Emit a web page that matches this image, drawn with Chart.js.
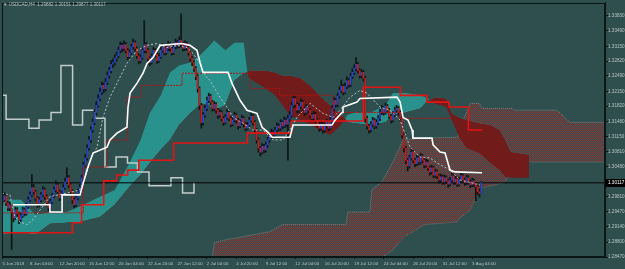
<!DOCTYPE html>
<html>
<head>
<meta charset="utf-8">
<script src="https://cdn.jsdelivr.net/npm/chart.js@4.4.1/dist/chart.umd.min.js"></script>
<style>
  html, body { margin: 0; padding: 0; background: #2f4f4f; }
  canvas { display: block; }
</style>
</head>
<body>
<canvas id="mtChart" width="625" height="269"></canvas>
<script>
// USDCAD H4, bar index 0 = first visible bar (5 Jun 2018)
const headerText = '\u25BC USDCAD,H4  1.29882 1.30151 1.29877 1.30117';
const bidPrice = 1.30117;

const xTickBars = [0, 15, 31, 47, 63, 79, 95, 111, 127, 143, 159, 175, 191, 207, 223, 239, 255];
const xTickLabels = ['5 Jun 2018', '8 Jun 04:00', '12 Jun 20:00', '15 Jun 12:00', '20 Jun 04:00', '22 Jun 20:00',
  '27 Jun 12:00', '2 Jul 04:00', '4 Jul 20:00', '9 Jul 12:00', '12 Jul 04:00', '16 Jul 20:00', '19 Jul 12:00',
  '24 Jul 04:00', '26 Jul 20:00', '31 Jul 12:00', '3 Aug 04:00'];
const yTickLabels = ['1.33830', '1.33490', '1.33150', '1.32820', '1.32490', '1.32150', '1.31820', '1.31480',
  '1.31150', '1.30810', '1.30480', '1.30150', '1.29810', '1.29470', '1.29140', '1.28800', '1.28470'];

const opens = [
  1.2968, 1.2974, 1.2983, 1.2967, 1.2956, 1.2963, 1.2947, 1.2934, 1.2952, 1.2943,
  1.2930, 1.2939, 1.2952, 1.2943, 1.2959, 1.2974, 1.2985, 1.3001, 1.2992, 1.2978,
  1.2963, 1.2974, 1.2985, 1.2996, 1.2981, 1.2967, 1.2956, 1.2970, 1.2983, 1.2996,
  1.3007, 1.2992, 1.2978, 1.2987, 1.3001, 1.3014, 1.3023, 1.3007, 1.2992, 1.2974,
  1.2963, 1.2978, 1.2992, 1.3001, 1.3023, 1.3051, 1.3067, 1.3089, 1.3107, 1.3129,
  1.3146, 1.3168, 1.3184, 1.3199, 1.3213, 1.3228, 1.3221, 1.3235, 1.3250, 1.3261,
  1.3275, 1.3279, 1.3288, 1.3294, 1.3306, 1.3317, 1.3310, 1.3319, 1.3306, 1.3292,
  1.3301, 1.3314, 1.3323, 1.3310, 1.3294, 1.3283, 1.3290, 1.3306, 1.3319, 1.3306,
  1.3288, 1.3279, 1.3292, 1.3306, 1.3297, 1.3283, 1.3292, 1.3306, 1.3314, 1.3301,
  1.3310, 1.3319, 1.3310, 1.3301, 1.3314, 1.3323, 1.3317, 1.3328, 1.3319, 1.3310,
  1.3321, 1.3312, 1.3301, 1.3288, 1.3279, 1.3266, 1.3248, 1.3221, 1.3184, 1.3146,
  1.3162, 1.3177, 1.3195, 1.3204, 1.3191, 1.3177, 1.3186, 1.3173, 1.3162, 1.3168,
  1.3155, 1.3146, 1.3157, 1.3168, 1.3155, 1.3142, 1.3151, 1.3162, 1.3151, 1.3138,
  1.3146, 1.3155, 1.3142, 1.3133, 1.3140, 1.3151, 1.3160, 1.3146, 1.3129, 1.3107,
  1.3089, 1.3080, 1.3093, 1.3085, 1.3096, 1.3107, 1.3115, 1.3124, 1.3118, 1.3129,
  1.3138, 1.3133, 1.3146, 1.3138, 1.3151, 1.3142, 1.3155, 1.3162, 1.3184, 1.3199,
  1.3186, 1.3173, 1.3182, 1.3191, 1.3177, 1.3168, 1.3180, 1.3173, 1.3162, 1.3155,
  1.3164, 1.3151, 1.3142, 1.3133, 1.3142, 1.3129, 1.3138, 1.3146, 1.3133, 1.3151,
  1.3177, 1.3195, 1.3186, 1.3204, 1.3217, 1.3226, 1.3213, 1.3226, 1.3239, 1.3230,
  1.3248, 1.3257, 1.3266, 1.3275, 1.3261, 1.3250, 1.3257, 1.3244, 1.3155, 1.3138,
  1.3129, 1.3142, 1.3151, 1.3138, 1.3146, 1.3155, 1.3168, 1.3177, 1.3168, 1.3182,
  1.3173, 1.3160, 1.3151, 1.3164, 1.3173, 1.3177, 1.3168, 1.3155, 1.3118, 1.3089,
  1.3062, 1.3049, 1.3067, 1.3080, 1.3062, 1.3054, 1.3067, 1.3058, 1.3071, 1.3062,
  1.3051, 1.3058, 1.3045, 1.3036, 1.3045, 1.3029, 1.3036, 1.3027, 1.3018, 1.3025,
  1.3014, 1.3023, 1.3016, 1.3009, 1.3018, 1.3027, 1.3014, 1.3020, 1.3009, 1.3018,
  1.3027, 1.3018, 1.3012, 1.3023, 1.3014, 1.3007, 1.3016, 1.3009, 1.3003, 1.2992,
  1.2988
];
const highs = [
  1.2982, 1.2990, 1.2988, 1.2972, 1.2969, 1.2966, 1.2950, 1.2958, 1.2957, 1.2947,
  1.2945, 1.2958, 1.2956, 1.2966, 1.2980, 1.2992, 1.3030, 1.3008, 1.2995, 1.2982,
  1.2979, 1.2990, 1.3004, 1.3000, 1.2985, 1.2970, 1.2975, 1.2988, 1.3003, 1.3016,
  1.3012, 1.2996, 1.2993, 1.3008, 1.3022, 1.3045, 1.3028, 1.3011, 1.2996, 1.2978,
  1.2984, 1.2998, 1.3008, 1.3029, 1.3058, 1.3075, 1.3096, 1.3115, 1.3136, 1.3154,
  1.3175, 1.3192, 1.3207, 1.3222, 1.3236, 1.3233, 1.3243, 1.3258, 1.3268, 1.3283,
  1.3287, 1.3296, 1.3302, 1.3313, 1.3325, 1.3322, 1.3327, 1.3323, 1.3310, 1.3307,
  1.3320, 1.3331, 1.3327, 1.3314, 1.3298, 1.3296, 1.3312, 1.3372, 1.3324, 1.3310,
  1.3292, 1.3298, 1.3312, 1.3310, 1.3301, 1.3298, 1.3312, 1.3321, 1.3318, 1.3316,
  1.3326, 1.3323, 1.3314, 1.3320, 1.3331, 1.3328, 1.3336, 1.3387, 1.3324, 1.3327,
  1.3325, 1.3316, 1.3305, 1.3292, 1.3283, 1.3270, 1.3252, 1.3225, 1.3188, 1.3168,
  1.3184, 1.3202, 1.3211, 1.3208, 1.3195, 1.3192, 1.3190, 1.3177, 1.3174, 1.3172,
  1.3159, 1.3163, 1.3175, 1.3172, 1.3159, 1.3157, 1.3169, 1.3166, 1.3155, 1.3152,
  1.3162, 1.3159, 1.3146, 1.3146, 1.3157, 1.3167, 1.3164, 1.3150, 1.3133, 1.3111,
  1.3093, 1.3099, 1.3097, 1.3102, 1.3113, 1.3121, 1.3131, 1.3129, 1.3135, 1.3145,
  1.3143, 1.3152, 1.3150, 1.3158, 1.3156, 1.3162, 1.3170, 1.3190, 1.3206, 1.3203,
  1.3190, 1.3188, 1.3198, 1.3195, 1.3181, 1.3186, 1.3184, 1.3177, 1.3166, 1.3170,
  1.3168, 1.3155, 1.3146, 1.3148, 1.3146, 1.3144, 1.3153, 1.3150, 1.3158, 1.3184,
  1.3202, 1.3199, 1.3211, 1.3225, 1.3240, 1.3230, 1.3233, 1.3247, 1.3243, 1.3255,
  1.3265, 1.3274, 1.3290, 1.3279, 1.3265, 1.3263, 1.3261, 1.3248, 1.3160, 1.3142,
  1.3148, 1.3157, 1.3155, 1.3152, 1.3161, 1.3175, 1.3184, 1.3181, 1.3188, 1.3186,
  1.3177, 1.3164, 1.3170, 1.3180, 1.3184, 1.3181, 1.3172, 1.3159, 1.3122, 1.3093,
  1.3066, 1.3073, 1.3088, 1.3084, 1.3066, 1.3073, 1.3071, 1.3077, 1.3075, 1.3066,
  1.3064, 1.3062, 1.3049, 1.3051, 1.3049, 1.3042, 1.3040, 1.3031, 1.3031, 1.3029,
  1.3029, 1.3027, 1.3020, 1.3024, 1.3033, 1.3031, 1.3026, 1.3024, 1.3024, 1.3033,
  1.3031, 1.3022, 1.3029, 1.3027, 1.3018, 1.3022, 1.3020, 1.3013, 1.3007, 1.2998,
  1.3015
];
const lows = [
  1.2962, 1.2970, 1.2961, 1.2950, 1.2950, 1.2864, 1.2925, 1.2930, 1.2937, 1.2921,
  1.2926, 1.2935, 1.2938, 1.2940, 1.2955, 1.2970, 1.2981, 1.2986, 1.2972, 1.2957,
  1.2958, 1.2970, 1.2981, 1.2975, 1.2960, 1.2949, 1.2952, 1.2966, 1.2979, 1.2991,
  1.2987, 1.2972, 1.2974, 1.2983, 1.2997, 1.3010, 1.3001, 1.2986, 1.2966, 1.2956,
  1.2959, 1.2974, 1.2987, 1.2996, 1.3019, 1.3046, 1.3062, 1.3084, 1.3101, 1.3124,
  1.3141, 1.3162, 1.3179, 1.3194, 1.3208, 1.3212, 1.3216, 1.3230, 1.3244, 1.3256,
  1.3268, 1.3273, 1.3282, 1.3289, 1.3300, 1.3303, 1.3305, 1.3300, 1.3285, 1.3287,
  1.3297, 1.3309, 1.3304, 1.3288, 1.3276, 1.3278, 1.3286, 1.3301, 1.3300, 1.3282,
  1.3272, 1.3275, 1.3288, 1.3291, 1.3277, 1.3279, 1.3288, 1.3301, 1.3295, 1.3297,
  1.3305, 1.3304, 1.3295, 1.3297, 1.3309, 1.3311, 1.3312, 1.3313, 1.3304, 1.3306,
  1.3306, 1.3295, 1.3282, 1.3272, 1.3259, 1.3241, 1.3213, 1.3175, 1.3133, 1.3140,
  1.3157, 1.3172, 1.3190, 1.3185, 1.3171, 1.3172, 1.3167, 1.3155, 1.3157, 1.3149,
  1.3139, 1.3142, 1.3153, 1.3150, 1.3136, 1.3138, 1.3147, 1.3145, 1.3131, 1.3134,
  1.3141, 1.3136, 1.3127, 1.3129, 1.3136, 1.3147, 1.3140, 1.3122, 1.3100, 1.3080,
  1.3071, 1.3076, 1.3078, 1.3080, 1.3091, 1.3102, 1.3110, 1.3112, 1.3113, 1.3124,
  1.3127, 1.3128, 1.3132, 1.3134, 1.3136, 1.3062, 1.3148, 1.3157, 1.3179, 1.3180,
  1.3167, 1.3168, 1.3177, 1.3171, 1.3161, 1.3164, 1.3167, 1.3156, 1.3148, 1.3150,
  1.3145, 1.3136, 1.3126, 1.3128, 1.3122, 1.3124, 1.3133, 1.3127, 1.3129, 1.3146,
  1.3172, 1.3180, 1.3181, 1.3199, 1.3212, 1.3207, 1.3209, 1.3221, 1.3224, 1.3225,
  1.3243, 1.3252, 1.3260, 1.3255, 1.3244, 1.3245, 1.3238, 1.3146, 1.3131, 1.3122,
  1.3125, 1.3137, 1.3132, 1.3133, 1.3141, 1.3150, 1.3163, 1.3162, 1.3164, 1.3167,
  1.3154, 1.3145, 1.3147, 1.3159, 1.3168, 1.3162, 1.3149, 1.3111, 1.3080, 1.3054,
  1.3038, 1.3044, 1.3062, 1.3056, 1.3047, 1.3050, 1.3052, 1.3053, 1.3056, 1.3045,
  1.3046, 1.3039, 1.3029, 1.3031, 1.3023, 1.3024, 1.3021, 1.3011, 1.3013, 1.3008,
  1.3009, 1.3010, 1.3002, 1.3005, 1.3013, 1.3008, 1.3009, 1.3003, 1.3005, 1.3013,
  1.3012, 1.3006, 1.3008, 1.3008, 1.3001, 1.3003, 1.3003, 1.2972, 1.2985, 1.2980,
  1.2988
];
const closes = [
  1.2974, 1.2983, 1.2967, 1.2956, 1.2963, 1.2947, 1.2934, 1.2952, 1.2943, 1.2930,
  1.2939, 1.2952, 1.2943, 1.2959, 1.2974, 1.2985, 1.3001, 1.2992, 1.2978, 1.2963,
  1.2974, 1.2985, 1.2996, 1.2981, 1.2967, 1.2956, 1.2970, 1.2983, 1.2996, 1.3007,
  1.2992, 1.2978, 1.2987, 1.3001, 1.3014, 1.3023, 1.3007, 1.2992, 1.2974, 1.2963,
  1.2978, 1.2992, 1.3001, 1.3023, 1.3051, 1.3067, 1.3089, 1.3107, 1.3129, 1.3146,
  1.3168, 1.3184, 1.3199, 1.3213, 1.3228, 1.3221, 1.3235, 1.3250, 1.3261, 1.3275,
  1.3279, 1.3288, 1.3294, 1.3306, 1.3317, 1.3310, 1.3319, 1.3306, 1.3292, 1.3301,
  1.3314, 1.3323, 1.3310, 1.3294, 1.3283, 1.3290, 1.3306, 1.3319, 1.3306, 1.3288,
  1.3279, 1.3292, 1.3306, 1.3297, 1.3283, 1.3292, 1.3306, 1.3314, 1.3301, 1.3310,
  1.3319, 1.3310, 1.3301, 1.3314, 1.3323, 1.3317, 1.3328, 1.3319, 1.3310, 1.3321,
  1.3312, 1.3301, 1.3288, 1.3279, 1.3266, 1.3248, 1.3221, 1.3184, 1.3146, 1.3162,
  1.3177, 1.3195, 1.3204, 1.3191, 1.3177, 1.3186, 1.3173, 1.3162, 1.3168, 1.3155,
  1.3146, 1.3157, 1.3168, 1.3155, 1.3142, 1.3151, 1.3162, 1.3151, 1.3138, 1.3146,
  1.3155, 1.3142, 1.3133, 1.3140, 1.3151, 1.3160, 1.3146, 1.3129, 1.3107, 1.3089,
  1.3080, 1.3093, 1.3085, 1.3096, 1.3107, 1.3115, 1.3124, 1.3118, 1.3129, 1.3138,
  1.3133, 1.3146, 1.3138, 1.3151, 1.3142, 1.3155, 1.3162, 1.3184, 1.3199, 1.3186,
  1.3173, 1.3182, 1.3191, 1.3177, 1.3168, 1.3180, 1.3173, 1.3162, 1.3155, 1.3164,
  1.3151, 1.3142, 1.3133, 1.3142, 1.3129, 1.3138, 1.3146, 1.3133, 1.3151, 1.3177,
  1.3195, 1.3186, 1.3204, 1.3217, 1.3226, 1.3213, 1.3226, 1.3239, 1.3230, 1.3248,
  1.3257, 1.3266, 1.3275, 1.3261, 1.3250, 1.3257, 1.3244, 1.3155, 1.3138, 1.3129,
  1.3142, 1.3151, 1.3138, 1.3146, 1.3155, 1.3168, 1.3177, 1.3168, 1.3182, 1.3173,
  1.3160, 1.3151, 1.3164, 1.3173, 1.3177, 1.3168, 1.3155, 1.3118, 1.3089, 1.3062,
  1.3049, 1.3067, 1.3080, 1.3062, 1.3054, 1.3067, 1.3058, 1.3071, 1.3062, 1.3051,
  1.3058, 1.3045, 1.3036, 1.3045, 1.3029, 1.3036, 1.3027, 1.3018, 1.3025, 1.3014,
  1.3023, 1.3016, 1.3009, 1.3018, 1.3027, 1.3014, 1.3020, 1.3009, 1.3018, 1.3027,
  1.3018, 1.3012, 1.3023, 1.3014, 1.3007, 1.3016, 1.3009, 1.3003, 1.2992, 1.2988,
  1.3012
];

// H4 cloud (senkou spans, shifted forward)
const cloudX = [-1, 10, 18, 26, 35, 42, 53, 61, 69, 75, 80, 86, 91, 96, 102, 107, 111, 115, 121, 126,
  131, 133, 134, 143, 148, 152, 156, 162, 167, 172, 178, 182, 186, 187, 191, 200, 208, 212, 219, 227,
  231, 232, 235, 241, 244, 248, 252, 259, 265, 270, 273, 276, 286];
const spanA = [1.2974, 1.2974, 1.2941, 1.2947, 1.2947, 1.2959, 1.2981, 1.2996, 1.3056, 1.3107,
  1.3166, 1.3206, 1.3257, 1.3272, 1.3279, 1.3294, 1.3310, 1.3328, 1.3306, 1.3323,
  1.3323, 1.3257, 1.3244, 1.3221, 1.3206, 1.3184, 1.3162, 1.3151, 1.3142, 1.3129,
  1.3118, 1.3133, 1.3151, 1.3162, 1.3168, 1.3168, 1.3184, 1.3211, 1.3211, 1.3206,
  1.3199, 1.3197, 1.3188, 1.3180, 1.3151, 1.3113, 1.3089, 1.3078, 1.3056, 1.3040,
  1.3025, 1.3023, 1.3023];
const spanB = [1.2897, 1.2901, 1.2897, 1.2921, 1.2923, 1.2925, 1.2936, 1.2963, 1.3003, 1.3029,
  1.3056, 1.3085, 1.3107, 1.3140, 1.3166, 1.3184, 1.3188, 1.3173, 1.3184, 1.3239,
  1.3255, 1.3257, 1.3261, 1.3261, 1.3257, 1.3250, 1.3250, 1.3244, 1.3228, 1.3206,
  1.3184, 1.3168, 1.3155, 1.3146, 1.3144, 1.3140, 1.3146, 1.3162, 1.3168, 1.3177,
  1.3195, 1.3197, 1.3202, 1.3199, 1.3166, 1.3157, 1.3151, 1.3144, 1.3140, 1.3129,
  1.3107, 1.3080, 1.3074];

// daily cloud (dotted)
const dailyX = [114, 115, 122, 145, 152, 186.5, 187.5, 199.5, 200.5, 206, 212, 217.5, 229, 247, 248.5,
  254, 259, 260.5, 272, 277, 278, 286, 301, 308, 327];
const dailyTop = [1.2848, 1.2879, 1.2886, 1.2903, 1.2919, 1.2919, 1.2947, 1.2947, 1.2996, 1.3014,
  1.3058, 1.3107, 1.3111, 1.3113, 1.3135, 1.3188, 1.3188, 1.3177, 1.3177, 1.3177,
  1.3173, 1.3173, 1.3173, 1.3146, 1.3146];
const dailyBottom = [1.2848, 1.2837, 1.2837, 1.2837, 1.2837, 1.2837, 1.2837, 1.2837, 1.2837, 1.2846,
  1.2863, 1.2890, 1.2919, 1.2925, 1.2934, 1.2952, 1.2996, 1.3001, 1.3012, 1.3036,
  1.3045, 1.3058, 1.3058, 1.3058, 1.3058];

// daily chikou (stepped, grey)
const chikouX = [-0.2, 2.0, 14.4, 19.9, 26.4, 31.8, 38.1, 43.5, 50.3, 55.7, 61.7, 67.9, 73.3, 79.6, 91.5, 97.8, 104];
const chikouY = [1.3206, 1.3153, 1.3133, 1.3151, 1.3168, 1.3272, 1.3140, 1.3173, 1.3155, 1.3047,
  1.3069, 1.3056, 1.3036, 1.3005, 1.3023, 1.2989, 1.3012];

// daily kijun / tenkan (red)
const redThickX = [-1, 38, 43, 55, 62, 68, 74, 93, 133, 157, 196, 216, 230.5, 242.5, 253, 260.5];
const redThickY = [1.2901, 1.2923, 1.2963, 1.3016, 1.3029, 1.3040, 1.3062, 1.3100, 1.3122, 1.3149,
  1.3224, 1.3206, 1.3191, 1.3180, 1.3129, 1.3129];
const redThinX = [-1, 44, 57, 68, 75, 97.5, 134.5, 150.5, 179.5, 216, 244];
const redThinY = [1.2945, 1.3047, 1.3107, 1.3202, 1.3228, 1.3255, 1.3221, 1.3206, 1.3168, 1.3155, 1.3155];

// H4 kijun (white) and tenkan (grey dashed)
const whiteX = [5.75, 25.8, 25.8, 32.4, 32.4, 42.1, 45.9, 49.2, 56.8, 58.4, 62.2, 67.6, 68.2, 69.3, 73.1,
  76.3, 78.5, 81.8, 85.6, 97.5, 101.8, 105.6, 107.3, 108.9, 122.5, 124.6, 129, 132.8, 138.2, 141,
  144.2, 146.4, 156.1, 157.8, 178.9, 180.6, 184.4, 184.9, 192.5, 194.1, 214.2, 215.9, 217.5, 220.2,
  222.4, 222.9, 233.2, 233.8, 237.6, 240.3, 243, 245.7, 260.4];
const whiteY = [1.2963, 1.2963, 1.2947, 1.2947, 1.2985, 1.2985, 1.3040, 1.3078, 1.3091, 1.3107,
  1.3122, 1.3135, 1.3180, 1.3211, 1.3233, 1.3255, 1.3277, 1.3290, 1.3317, 1.3321,
  1.3317, 1.3306, 1.3279, 1.3257, 1.3257, 1.3233, 1.3195, 1.3173, 1.3166, 1.3135,
  1.3124, 1.3113, 1.3113, 1.3140, 1.3140, 1.3151, 1.3168, 1.3180, 1.3191, 1.3199,
  1.3202, 1.3191, 1.3157, 1.3151, 1.3129, 1.3111, 1.3111, 1.3096, 1.3080, 1.3078,
  1.3040, 1.3036, 1.3034];
const greyX = [-0.2, 4.1, 6.8, 9.6, 13.4, 16.6, 25.8, 35.1, 42.1, 45.9, 47.6, 51.4, 54.6, 58.4, 62.2,
  67.6, 73.1, 78.5, 83.9, 89.4, 94.8, 100.2, 103.5, 107.3, 110, 112.7, 118.1, 121.9, 125.2, 130.6,
  136, 141.5, 146.9, 152.3, 156.1, 159.9, 167, 174, 179.5, 183.3, 188.7, 194.1, 197.9, 205, 210.4,
  215.9, 221.3, 226.7, 232.1, 235.9, 243, 248.4, 252.2, 259.3];
const greyY = [1.2989, 1.2985, 1.2936, 1.2925, 1.2919, 1.2930, 1.2981, 1.2989, 1.2996, 1.3034,
  1.3062, 1.3091, 1.3157, 1.3202, 1.3233, 1.3277, 1.3306, 1.3317, 1.3321, 1.3312,
  1.3317, 1.3312, 1.3299, 1.3277, 1.3250, 1.3239, 1.3202, 1.3180, 1.3157, 1.3144,
  1.3129, 1.3129, 1.3107, 1.3107, 1.3129, 1.3157, 1.3188, 1.3166, 1.3157, 1.3173,
  1.3202, 1.3217, 1.3211, 1.3180, 1.3173, 1.3151, 1.3091, 1.3069, 1.3067, 1.3056,
  1.3040, 1.3018, 1.3014, 1.3007];

const xMin = -0.22, xMax = 327.14;
const yMin = 1.2847, yMax = 1.34116;

const bg = '#2f4f4f';
const frameColor = '#0b1616';
const textColor = '#b9c4c4';
const fontFam = '"Liberation Sans", Arial, sans-serif';

const canvas = document.getElementById('mtChart');
const ctx = canvas.getContext('2d');

// hatched fill used by MT4 for the daily cloud
function dottedFill() {
  const c = document.createElement('canvas');
  c.width = 2; c.height = 2;
  const g = c.getContext('2d');
  g.fillStyle = '#a52a2a';
  g.fillRect(0, 0, 1, 1);
  g.fillStyle = '#6e4646';
  g.fillRect(1, 1, 1, 1);
  return ctx.createPattern(c, 'repeat');
}

const pts = (xs, ys) => xs.map((x, i) => ({ x: x, y: ys[i] }));
const barIdx = closes.map((c, i) => i);
const bodyColors = barIdx.map(i => closes[i] >= opens[i] ? '#2c48c0' : '#c02222');

const mtDecor = {
  id: 'mtDecor',
  beforeDraw(chart) {
    const c = chart.ctx;
    c.save();
    c.fillStyle = bg;
    c.fillRect(0, 0, chart.width, chart.height);
    c.restore();
  },
  afterDatasetsDraw(chart) {
    const a = chart.chartArea, c = chart.ctx;
    c.save();
    c.strokeStyle = frameColor;
    c.lineWidth = 1;
    c.strokeRect(Math.round(a.left) + 0.5, Math.round(a.top) + 0.5,
      Math.round(a.right - a.left) - 1, Math.round(a.bottom - a.top) - 1);
    c.restore();
  },
  afterDraw(chart) {
    const c = chart.ctx, a = chart.chartArea;
    const y = chart.scales.y.getPixelForValue(bidPrice);
    c.save();
    c.fillStyle = '#000';
    c.fillRect(a.right, Math.round(y) - 4, 20, 8);
    c.fillStyle = '#ffffff';
    c.font = '4.6px ' + fontFam;
    c.textBaseline = 'middle';
    c.fillText(bidPrice.toFixed(5), a.right + 3, Math.round(y));
    c.fillStyle = textColor;
    c.font = '4.5px ' + fontFam;
    c.fillText(headerText, 3, 5);
    c.restore();
  }
};

new Chart(ctx, {
  type: 'line',
  data: {
    datasets: [
      { type: 'line', label: 'daily cloud', data: pts(dailyX, dailyTop), borderColor: '#6d8585', borderWidth: 1,
        borderDash: [1, 1], pointRadius: 0, fill: '+1', backgroundColor: dottedFill(), order: 20 },
      { type: 'line', label: 'daily cloud low', data: pts(dailyX, dailyBottom), borderColor: '#6d8585', borderWidth: 1,
        borderDash: [1, 1], pointRadius: 0, fill: false, order: 20 },
      { type: 'line', label: 'span A', data: pts(cloudX, spanA), borderColor: 'transparent', borderWidth: 0,
        pointRadius: 0, fill: { target: '+1', above: '#2a928d', below: '#721b1b' }, order: 18 },
      { type: 'line', label: 'span B', data: pts(cloudX, spanB), borderColor: 'transparent', borderWidth: 0,
        pointRadius: 0, fill: false, order: 18 },
      { type: 'line', label: 'chikou', data: pts(chikouX, chikouY), stepped: 'before', borderColor: '#c3cccc',
        borderWidth: 1.5, pointRadius: 0, fill: false, order: 12 },
      { type: 'line', label: 'bid', data: pts([xMin, xMax], [bidPrice, bidPrice]), borderColor: '#000000',
        borderWidth: 1, pointRadius: 0, fill: false, order: 11 },
      { type: 'bar', label: 'wicks', data: barIdx.map(i => ({ x: i, y: [lows[i], highs[i]] })),
        backgroundColor: '#0d1414', barThickness: 1, grouped: false, order: 6 },
      { type: 'bar', label: 'bodies', data: barIdx.map(i => ({ x: i, y: [opens[i], closes[i]] })),
        backgroundColor: bodyColors, barThickness: 1, grouped: false, order: 5 },
      { type: 'line', label: 'red thin', data: pts(redThinX, redThinY), stepped: 'before', borderColor: '#b41212',
        borderWidth: 1, borderDash: [2, 1], pointRadius: 0, fill: false, order: 4 },
      { type: 'line', label: 'red thick', data: pts(redThickX, redThickY), stepped: 'before', borderColor: '#e31414',
        borderWidth: 1.6, pointRadius: 0, fill: false, order: 3 },
      { type: 'line', label: 'tenkan', data: pts(greyX, greyY), borderColor: '#b7c0c0', borderWidth: 1,
        borderDash: [2, 2], pointRadius: 0, fill: false, order: 2 },
      { type: 'line', label: 'kijun', data: pts(whiteX, whiteY), borderColor: '#ffffff', borderWidth: 1.6,
        pointRadius: 0, fill: false, order: 1 }
    ]
  },
  options: {
    responsive: false,
    animation: false,
    devicePixelRatio: 1,
    layout: { padding: { left: 2, top: 2, right: 0, bottom: 0 } },
    plugins: { legend: { display: false }, tooltip: { enabled: false }, filler: { propagate: false } },
    scales: {
      x: {
        type: 'linear', min: xMin, max: xMax, offset: false,
        afterBuildTicks: s => { s.ticks = xTickBars.map(v => ({ value: v })); },
        afterFit: s => { s.height = 12; },
        ticks: { autoSkip: false, maxRotation: 0, align: 'start', padding: 2, color: textColor,
          font: { family: fontFam, size: 4.4 }, callback: (v, i) => xTickLabels[i] },
        grid: { drawOnChartArea: false, drawTicks: true, tickLength: 2, color: frameColor, offset: false },
        border: { display: true, color: frameColor }
      },
      y: {
        type: 'linear', position: 'right', min: yMin, max: yMax,
        afterBuildTicks: s => { s.ticks = yTickLabels.map(t => ({ value: parseFloat(t) })); },
        afterFit: s => { s.width = 20; },
        ticks: { autoSkip: false, padding: 0, color: textColor,
          font: { family: fontFam, size: 4.6 }, callback: (v, i) => yTickLabels[i] },
        grid: { drawOnChartArea: false, drawTicks: true, tickLength: 3, color: frameColor },
        border: { display: true, color: frameColor }
      }
    }
  },
  plugins: [mtDecor]
});
</script>
</body>
</html>
